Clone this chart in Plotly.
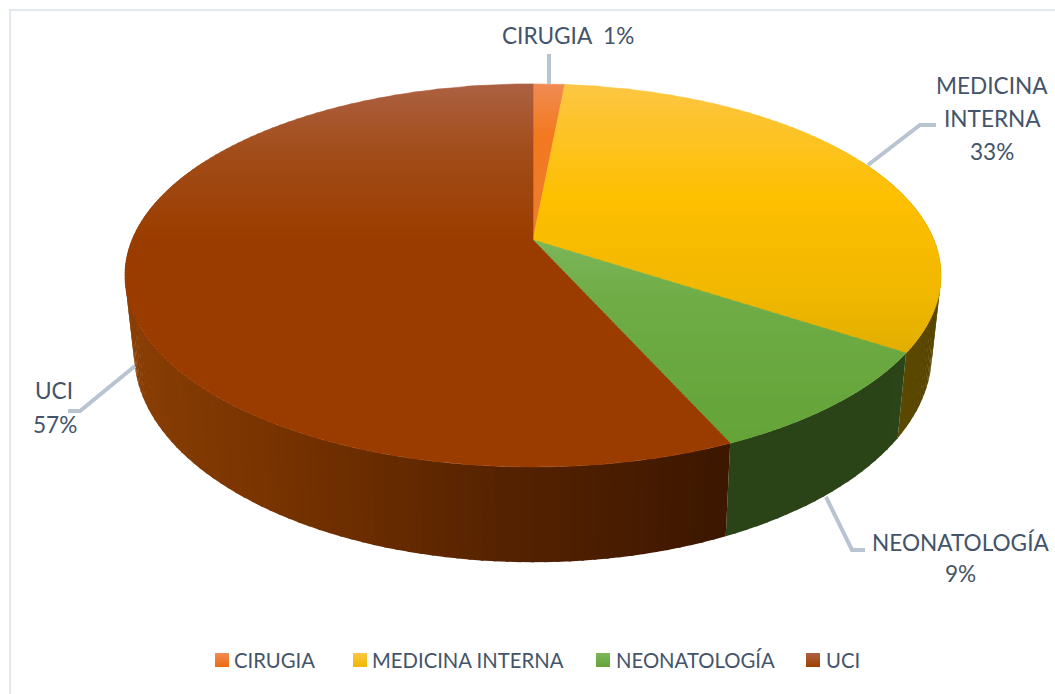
import numpy as np
import plotly.graph_objects as go

# values (the printed labels are rounded by the source chart)
categories = ["CIRUGIA", "MEDICINA INTERNA", "NEONATOLOGÍA", "UCI"]
shares = [1.5, 32.75, 9.05, 56.7]
pct_labels = ["1%", "33%", "9%", "57%"]

TEXT = "#44546a"
LEADER = "#b8c4d2"
FONT = "Lato"

# vertical gradient of the top face: (y, colour)
top_stops = [
    [(84, "#f08c54"), (135, "#f47a20"), (240, "#ed7d31")],
    [(84, "#fdc744"), (200, "#ffc000"), (300, "#f0b800"), (353, "#e2ae00")],
    [(240, "#7cb75a"), (300, "#70ad47"), (443, "#64a438")],
    [(84, "#ad6243"), (150, "#a34e1c"), (235, "#9c3e00"), (467, "#9a3c00")],
]
# horizontal gradient of the wall: (x, colour)
side_stops = [
    [(533, "#8a4a1c"), (565, "#8a4a1c")],
    [(895, "#5e4b00"), (941, "#574500")],
    [(725, "#2a4418"), (897, "#2b4519")],
    [(125, "#8a3f05"), (300, "#743100"), (500, "#562300"), (725, "#3d1700")],
]
legend_tops = ["#f08c54", "#fdc744", "#7cb75a", "#ad6243"]
legend_bottoms = ["#ed6a10", "#f0b800", "#64a438", "#9e3f00"]


def hex_rgb(c):
    return np.array([int(c[i : i + 2], 16) for i in (1, 3, 5)], float)


def ramp(stops, p):
    pos = [s[0] for s in stops]
    cols = np.array([hex_rgb(s[1]) for s in stops])
    rgb = [np.interp(p, pos, cols[:, i]) for i in range(3)]
    return "rgb(%d,%d,%d)" % tuple(rgb)


# perspective projection of the unit disc, angles clockwise from 12 o'clock
def top_xy(phi):
    u, v = np.sin(phi), -np.cos(phi)
    d = 1 - 0.185 * v
    return 533 + 401 * u / d, 240 + 185 * v / d


def bottom_xy(phi):
    u, v = np.sin(phi), -np.cos(phi)
    d = 1 - 0.185 * v
    return 533 + 392 * u / d, 315 + 201.5 * v / d


def clip_band(poly, y0, y1):
    # Sutherland-Hodgman against the two horizontal edges
    for limit, keep_below in ((y0, True), (y1, False)):
        out = []
        for i in range(len(poly)):
            a, b = poly[i - 1], poly[i]
            ina = a[1] >= limit if keep_below else a[1] <= limit
            inb = b[1] >= limit if keep_below else b[1] <= limit
            if ina != inb:
                t = (limit - a[1]) / (b[1] - a[1])
                out.append((a[0] + t * (b[0] - a[0]), limit))
            if inb:
                out.append(b)
        poly = out
        if not poly:
            break
    return poly


def polygon(xs, ys, color, width=0.6):
    return go.Scatter(
        x=list(xs) + [xs[0]],
        y=list(ys) + [ys[0]],
        mode="lines",
        fill="toself",
        fillcolor=color,
        line=dict(color=color, width=width),
        hoverinfo="skip",
        showlegend=False,
    )


edges = np.concatenate([[0], np.cumsum(shares)]) / np.sum(shares) * 2 * np.pi

fig = go.Figure()

# wall: strips around the front of the disc, each overlapping its neighbour
for i, cat in enumerate(categories):
    a0, a1 = edges[i], edges[i + 1]
    n = max(2, int((a1 - a0) / np.radians(1.5)))
    steps = np.linspace(a0, a1, n + 1)
    for p0, p1 in zip(steps[:-1], steps[1:]):
        if np.cos((p0 + p1) / 2) > 0.45:
            continue
        sub = np.linspace(p0, min(p1 + 0.006, a1), 4)
        tx, ty = top_xy(sub)
        bx, by = bottom_xy(sub[::-1])
        fig.add_trace(polygon(list(tx) + list(bx), list(ty) + list(by),
                              ramp(side_stops[i], float(np.mean(tx))), width=0))

# top face: each sector cut into thin horizontal bands for the gradient
BAND = 3
for i, cat in enumerate(categories):
    arc = np.linspace(edges[i], edges[i + 1], max(4, int((edges[i + 1] - edges[i]) * 60)))
    ax, ay = top_xy(arc)
    sector = [(533.0, 240.0)] + list(zip(ax, ay))
    for y in np.arange(80, 470, BAND):
        part = clip_band(sector, y, y + BAND + 0.5)
        if len(part) < 3:
            continue
        fig.add_trace(polygon([p[0] for p in part], [p[1] for p in part],
                              ramp(top_stops[i], y + BAND / 2)))

# leader lines
for lx, ly in (
    ([549, 549], [54, 84]),
    ([868, 920, 936], [165, 125, 125]),
    ([826, 852, 865], [497, 550, 550]),
    ([135, 80, 68], [366, 411, 411]),
):
    fig.add_trace(go.Scatter(x=lx, y=ly, mode="lines", hoverinfo="skip", showlegend=False,
                             line=dict(color=LEADER, width=4)))

# legend row
for i, (cat, mx, tx) in enumerate(zip(categories, (222, 360, 603, 813), (232, 370, 614, 824))):
    fig.add_trace(go.Scatter(
        x=[mx], y=[660], mode="markers", name=cat, showlegend=False, hoverinfo="skip",
        marker=dict(symbol="square", size=14, color=legend_tops[i], line_width=0,
                    gradient=dict(type="vertical", color=legend_bottoms[i])),
    ))
    fig.add_annotation(x=tx, y=660, text=cat, showarrow=False, xanchor="left",
                       font=dict(size=20.3, color=TEXT, family=FONT))

# data labels
for text, x, y in (
    (f"{categories[0]}  {pct_labels[0]}", 568, 35),
    ("MEDICINA", 992, 85),
    ("INTERNA", 992, 118),
    (pct_labels[1], 992, 151),
    (categories[2], 960, 542),
    (pct_labels[2], 960, 573),
    (categories[3], 54, 390),
    (pct_labels[3], 55, 424),
):
    fig.add_annotation(x=x, y=y, text=text, showarrow=False,
                       font=dict(size=22.6, color=TEXT, family=FONT))

fig.update_layout(
    width=1055,
    height=694,
    margin=dict(l=0, r=0, t=0, b=0),
    paper_bgcolor="white",
    plot_bgcolor="white",
    showlegend=False,
    xaxis=dict(range=[0, 1055], visible=False, fixedrange=True),
    yaxis=dict(range=[694, 0], visible=False, fixedrange=True),
    shapes=[dict(type="rect", x0=10, y0=10, x1=1075, y1=714, layer="below",
                 line=dict(color="#e3e7ee", width=2))],
)
# the browser's default body margin would push the 1055 px figure off the window
fig.write_html("out.html", config={"displayModeBar": False},
               post_script="document.body.style.margin='0';")
